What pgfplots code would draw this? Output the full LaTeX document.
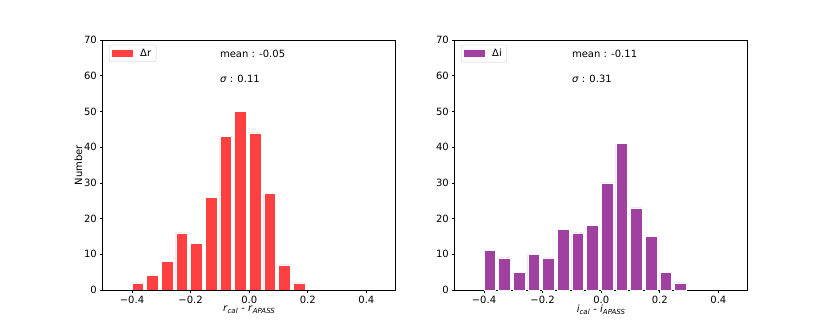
\documentclass[border=0pt]{standalone}
\usepackage{fontspec}
\setmainfont{DejaVu Sans}
\usepackage{pgfplots}
\pgfplotsset{compat=1.18}
\definecolor{barred}{RGB}{255,64,64}
\definecolor{barpurple}{RGB}{160,64,160}

\pgfplotsset{
  histo/.style={
    scale only axis,
    width=293pt, height=250pt,
    anchor=south west,
    xmin=-0.5, xmax=0.5,
    ymin=0, ymax=70,
    xtick={-0.4,-0.2,0,0.2,0.4},
    xticklabels={−0.4,−0.2,0.0,0.2,0.4},
    ytick={0,10,...,70},
    /pgf/number format/assume math mode=true,
    tick pos=left,
    tick align=outside,
    major tick length=3.2pt,
    every tick/.style={black, line width=0.7pt},
    axis line style={line width=0.7pt},
    xticklabel style={inner sep=2.5pt},
    yticklabel style={inner sep=2.5pt},
    xlabel style={at={(axis description cs:0.5,-0.08)}, anchor=center},
    ylabel style={at={(axis description cs:-0.083,0.5)}, anchor=center},
    legend style={at={(0.0215,0.981)}, anchor=north west,
      draw=black!20, rounded corners=2pt, inner xsep=3pt, inner ysep=2pt,
      column sep=5pt},
    legend image code/.code={\fill[##1, draw=none, sharp corners] (0pt,-3.5pt) rectangle (21pt,3.5pt);},
    legend cell align=left,
  },
  bars/.style={ybar, bar width=0.04, draw=white, line width=0.6pt, fill=#1},
}

\begin{document}
\fontsize{10pt}{12pt}\selectfont
\begin{tikzpicture}
\useasboundingbox (0,0) rectangle (830pt,332pt);

% left panel: delta r
\begin{axis}[histo, at={(102.7pt,42pt)},
    xlabel={\textit{r}\textsubscript{\textit{cal}} - \textit{r}\textsubscript{\textit{APASS}}},
    ylabel={Number}]
\addplot[bars=barred] coordinates {
  (-0.38,2) (-0.33,4) (-0.28,8) (-0.23,16) (-0.18,13) (-0.13,26)
  (-0.08,43) (-0.03,50) (0.02,44) (0.07,27) (0.12,7) (0.17,2)
};
\addlegendentry{Δr}
\node[anchor=base west, inner sep=0pt] at (axis cs:-0.1,65) {mean : -0.05};
\node[anchor=base west, inner sep=0pt] at (axis cs:-0.1,58) {\textit{σ} : 0.11};
\end{axis}

% right panel: delta i
\begin{axis}[histo, at={(454.7pt,42pt)},
    xlabel={\textit{i}\textsubscript{\textit{cal}} - \textit{i}\textsubscript{\textit{APASS}}}]
\addplot[bars=barpurple] coordinates {
  (-0.38,11) (-0.33,9) (-0.28,5) (-0.23,10) (-0.18,9) (-0.13,17) (-0.08,16)
  (-0.03,18) (0.02,30) (0.07,41) (0.12,23) (0.17,15) (0.22,5) (0.27,2)
};
\addlegendentry{Δi}
\node[anchor=base west, inner sep=0pt] at (axis cs:-0.1,65) {mean : -0.11};
\node[anchor=base west, inner sep=0pt] at (axis cs:-0.1,58) {\textit{σ} : 0.31};
\end{axis}
\end{tikzpicture}
\end{document}
